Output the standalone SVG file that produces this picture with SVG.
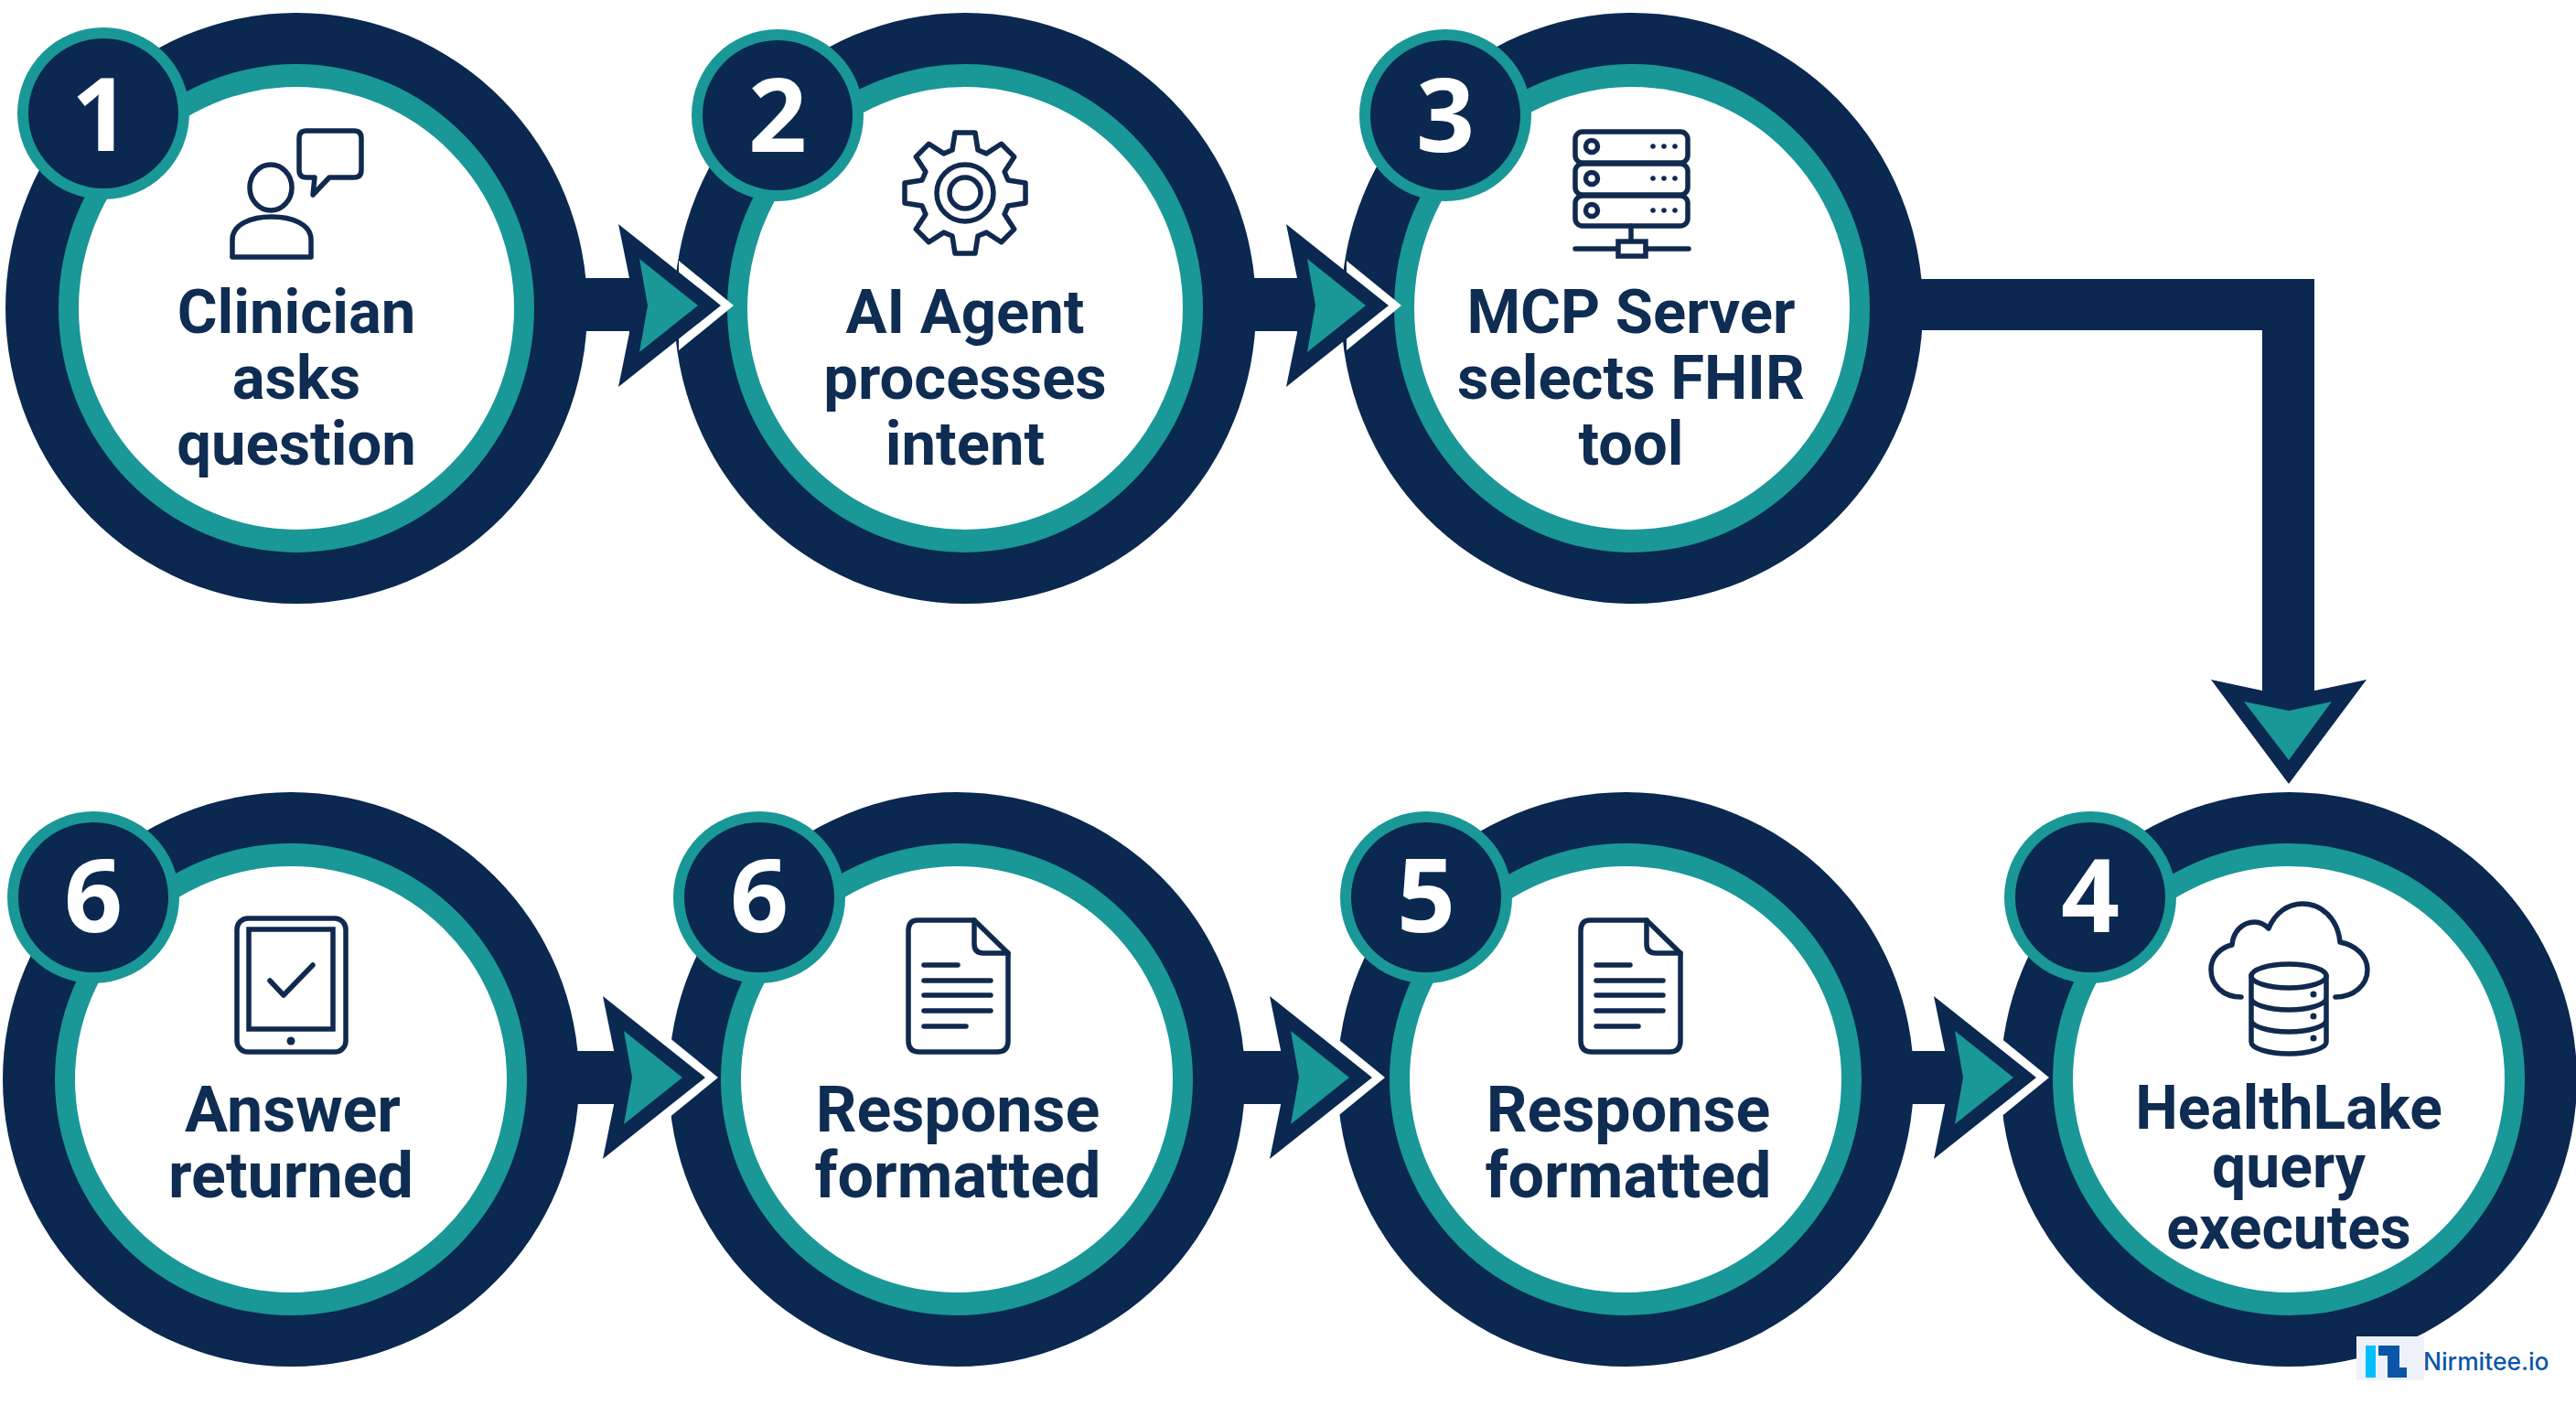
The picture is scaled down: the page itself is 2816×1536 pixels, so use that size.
<svg xmlns="http://www.w3.org/2000/svg" width="2816" height="1536" viewBox="0 0 2816 1536">
<style>
.navy{fill:#0a2850}.teal{fill:#1a9797}.white{fill:#fff}
.lbl{font-family:Roboto,"Liberation Sans",sans-serif;font-weight:700;font-size:67px;fill:#0f2c52;text-anchor:middle}
.lg{font-size:70px}.sm{font-size:66px}
.num{font-family:"Open Sans","Noto Sans",sans-serif;font-weight:700;font-size:112px;fill:#fff;text-anchor:middle}
.ic{fill:none;stroke:#10294f;stroke-width:5.5;stroke-linejoin:round;stroke-linecap:round}
.d{fill:#10294f}
</style>
<defs>
<g id="badge"><circle r="94" class="teal"/><circle r="82" class="navy"/></g>
<g id="ringTop"><ellipse rx="318" ry="323" class="navy"/><ellipse rx="260" ry="267" class="teal"/><ellipse rx="238" ry="242" class="white"/></g>
<g id="ringLow"><ellipse rx="315" ry="314" class="navy"/><ellipse rx="258" ry="258" class="teal"/><ellipse rx="236" ry="233" class="white"/></g>
<g id="head"><polygon points="-46,-49 14,0 -46,49" class="white"/><polygon points="-112,-89 -100,-30 -100,30 -112,89 0,0" class="navy"/><polygon points="-89,-51 -25,0 -89,51 -80,0" class="teal"/></g>
<g id="doc" class="ic"><path d="M1003 1006H1065L1102 1042V1138Q1102 1150 1090 1150H1005Q993 1150 993 1138V1018Q993 1006 1003 1006Z"/><path d="M1065 1006V1032Q1065 1042 1075 1042H1102"/><path d="M1010 1055H1047M1010 1072H1083M1010 1088H1083M1010 1105H1083M1010 1122H1056"/></g>
</defs>
<rect width="2816" height="1536" fill="#fff"/>

<g id="node-1">
<use href="#ringTop" x="324" y="337"/>
<use href="#badge" x="113" y="124"/>
<text class="num" x="110" y="165">1</text>
<g class="ic"><ellipse cx="296" cy="205" rx="23" ry="25"/><path d="M254 281V262C254 245 275 237 297 237C319 237 340 245 340 262V281Z"/><path d="M335 143H387Q395 143 395 151V186Q395 194 387 194H360L342 213L344 194H335Q327 194 327 186V151Q327 143 335 143Z"/></g>
<text class="lbl" x="324" y="364">Clinician</text><text class="lbl" x="324" y="436">asks</text><text class="lbl" x="324" y="508">question</text>
</g>

<g id="node-2">
<use href="#ringTop" x="1055" y="337"/>
<use href="#badge" x="850" y="126"/>
<text class="num" x="850" y="166">2</text>
<g class="ic" transform="translate(1055 211)"><path d="M-14 -47L-11 -66H11L14 -47L23.3 -43.1L39.6 -53.7L53.7 -39.6L43.1 -23.3L47 -14L66 -11V11L47 14L43.1 23.3L53.7 39.6L39.6 53.7L23.3 43.1L14 47L11 66H-11L-14 47L-23.3 43.1L-39.6 53.7L-53.7 39.6L-43.1 23.3L-47 14L-66 11V-11L-47 -14L-43.1 -23.3L-53.7 -39.6L-39.6 -53.7L-23.3 -43.1Z"/><circle r="31"/><circle r="17"/></g>
<text class="lbl" x="1055" y="364">AI Agent</text><text class="lbl" x="1055" y="436">processes</text><text class="lbl" x="1055" y="508">intent</text>
</g>

<g id="node-3">
<use href="#ringTop" x="1784" y="337"/>
<use href="#badge" x="1580" y="126"/>
<text class="num" x="1580" y="166">3</text>
<g class="ic"><rect x="1722" y="144" width="123" height="34" rx="8"/><rect x="1722" y="179" width="123" height="34" rx="8"/><rect x="1722" y="214" width="123" height="33" rx="8"/><circle cx="1740" cy="160" r="6.5"/><circle cx="1740" cy="195" r="6.5"/><circle cx="1740" cy="230" r="6.5"/><path d="M1783 247V263M1722 272H1768M1799 272H1846"/><rect x="1769" y="264" width="30" height="16" stroke-linejoin="miter"/></g>
<g class="d"><circle cx="1807" cy="160" r="2.8"/><circle cx="1819" cy="160" r="2.8"/><circle cx="1831" cy="160" r="2.8"/><circle cx="1807" cy="195" r="2.8"/><circle cx="1819" cy="195" r="2.8"/><circle cx="1831" cy="195" r="2.8"/><circle cx="1807" cy="230" r="2.8"/><circle cx="1819" cy="230" r="2.8"/><circle cx="1831" cy="230" r="2.8"/></g>
<text class="lbl" x="1783" y="364">MCP Server</text><text class="lbl" x="1783" y="436">selects FHIR</text><text class="lbl" x="1783" y="508">tool</text>
</g>

<g id="node-4">
<use href="#ringLow" x="2502" y="1180"/>
<use href="#badge" x="2285" y="981"/>
<text class="num" x="2285" y="1019">4</text>
<g class="ic"><path d="M2450 1090C2430 1090 2417 1077 2417 1060C2417 1046 2427 1036 2440 1033C2441 1019 2451 1008 2465 1008C2471 1008 2476 1011 2480 1015C2487 998 2501 988 2517 988C2539 988 2556 1006 2558 1030C2575 1033 2588 1045 2588 1060C2588 1077 2573 1090 2553 1090"/><ellipse cx="2502" cy="1067" rx="41" ry="13"/><path d="M2461 1067V1139A41 13 0 0 0 2543 1139V1067M2461 1091A41 13 0 0 0 2543 1091M2461 1115A41 13 0 0 0 2543 1115"/></g>
<g class="d"><circle cx="2529" cy="1087" r="3.5"/><circle cx="2529" cy="1111" r="3.5"/><circle cx="2529" cy="1135" r="3.5"/></g>
<text class="lbl sm" x="2502" y="1234">HealthLake</text><text class="lbl sm" x="2502" y="1298">query</text><text class="lbl sm" x="2502" y="1365">executes</text>
</g>

<g id="node-5">
<use href="#ringLow" x="1777" y="1180"/>
<use href="#badge" x="1559" y="981"/>
<text class="num" x="1559" y="1019">5</text>
<use href="#doc" x="735" y="0"/>
<text class="lbl lg" x="1780" y="1237">Response</text><text class="lbl lg" x="1780" y="1309">formatted</text>
</g>

<g id="node-6b">
<use href="#ringLow" x="1046" y="1180"/>
<use href="#badge" x="830" y="981"/>
<text class="num" x="830" y="1019">6</text>
<use href="#doc"/>
<text class="lbl lg" x="1047" y="1237">Response</text><text class="lbl lg" x="1047" y="1309">formatted</text>
</g>

<g id="node-6a">
<use href="#ringLow" x="318" y="1180"/>
<use href="#badge" x="102" y="981"/>
<text class="num" x="102" y="1019">6</text>
<g class="ic"><rect x="259" y="1004" width="119" height="146" rx="12"/><rect x="272" y="1016" width="92" height="109" stroke-linejoin="miter"/><path d="M295 1072L310 1088L342 1055"/></g>
<circle class="d" cx="318" cy="1138" r="4.5"/>
<text class="lbl lg" x="320" y="1237">Answer</text><text class="lbl lg" x="318" y="1309">returned</text>
</g>

<g id="connectors">
<rect x="630" y="304" width="70" height="58" class="navy"/><use href="#head" x="788" y="334"/>
<rect x="1360" y="304" width="70" height="58" class="navy"/><use href="#head" x="1518" y="334"/>
<path d="M2090 305H2530V770H2473V361H2090Z" class="navy"/>
<polygon points="2417,743 2473,755 2530,755 2587,743 2502,857" class="navy"/>
<polygon points="2453,767 2502,777 2549,767 2502,831" class="teal"/>
<rect x="622" y="1149" width="70" height="58" class="navy"/><use href="#head" x="771" y="1178"/>
<rect x="1352" y="1149" width="70" height="58" class="navy"/><use href="#head" x="1500" y="1178"/>
<rect x="2080" y="1149" width="70" height="58" class="navy"/><use href="#head" x="2226" y="1178"/>
</g>

<g id="logo">
<rect x="2576" y="1461" width="74" height="48" fill="#eef2f8"/>
<rect x="2586" y="1471" width="11" height="35" fill="#00bfff"/>
<path d="M2600 1471H2623V1495H2631V1506H2610V1482H2600Z" fill="#0b56a8"/>
<text x="2649" y="1498" font-family="Inter,'Noto Sans',sans-serif" font-weight="500" font-size="26.4" fill="#0b56a8">Nirmitee.io</text>
</g>
</svg>
